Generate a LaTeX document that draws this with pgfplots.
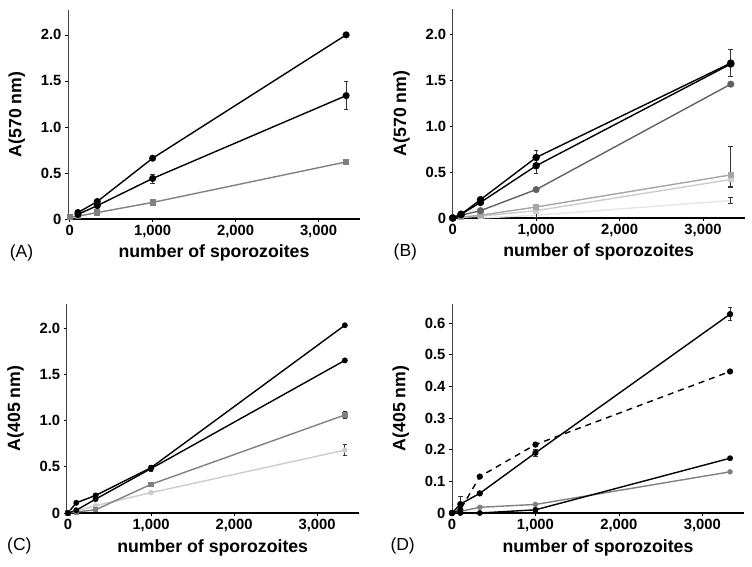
\documentclass[border=0pt]{standalone}
\usepackage{pgfplots}
\pgfplotsset{compat=1.18}
\usepackage{fontspec}
\setmainfont{Liberation Sans}
\definecolor{gA}{gray}{0.5}
\definecolor{gB}{gray}{0.38}
\definecolor{gC}{gray}{0.65}
\definecolor{gD}{gray}{0.8}
\definecolor{gE}{gray}{0.9}
\pgfplotsset{
  panel/.style={
    scale only axis, width=292pt, height=209pt, anchor=south west,
    axis lines=left,
    x axis line style={-, line width=1.5pt},
    y axis line style={-, line width=0.7pt, black!75},
    tick align=outside, major tick length=3pt,
    tick style={black, line width=0.7pt},
    xmin=0, xmax=3500, ymin=0,
    xtick={0,1000,2000,3000}, xticklabels={0,{1,000},{2,000},{3,000}},
    tick label style={font=\bfseries\fontsize{14.8}{14.8}\selectfont},
    xtick pos=bottom, ytick pos=left,
    xlabel={number of sporozoites},
    xlabel style={at={(axis description cs:0.5,-0.163)}, anchor=center, font=\bfseries\fontsize{17.7}{17.7}\selectfont},
    ylabel style={at={(axis description cs:-0.175,0.5)}, anchor=center, font=\bfseries\fontsize{17.7}{17.7}\selectfont},
    clip=false,
    every axis plot/.append style={line width=1.4pt},
    error bars/y dir=both, error bars/y explicit,
    error bars/error bar style={line width=0.7pt, black!80},
    error bars/error mark options={rotate=90, mark size=2.3pt, line width=0.7pt, black!80},
  },
}
\begin{document}
\begin{tikzpicture}[x=1pt,y=1pt]
\path[use as bounding box] (0,0) rectangle (752,567);
% ---------------- (A)
\begin{axis}[panel, at={(68pt,348pt)}, xmin=-20, ymax=2.27,
  ytick={0,0.5,1,1.5,2}, yticklabels={0,0.5,1.0,1.5,2.0}, ylabel={A(570 nm)}]
\addplot[gA, mark=square*, mark size=2.4pt] coordinates {
 (0,0.02) +- (0,0) (100,0.03) +- (0,0) (333,0.07) +- (0,0.01) (1000,0.18) +- (0,0.02) (3333,0.62) +- (0,0.02)};
\addplot[black, mark=*, mark size=2.8pt] coordinates {
 (100,0.05) +- (0,0) (333,0.145) +- (0,0.01) (1000,0.44) +- (0,0.05) (3333,1.34) +- (0,0.15)};
\addplot[black, mark=*, mark size=2.8pt] coordinates {
 (100,0.07) +- (0,0) (333,0.19) +- (0,0.01) (1000,0.66) +- (0,0.02) (3333,2.0) +- (0,0.01)};
\node[font=\fontsize{17.5}{17.5}\selectfont] at (axis description cs:-0.159,-0.163) {(A)};
\end{axis}
% ---------------- (B)
\begin{axis}[panel, at={(452.7pt,349pt)}, ymax=2.28,
  ytick={0,0.5,1,1.5,2}, yticklabels={0,0.5,1.0,1.5,2.0}, ylabel={A(570 nm)}]
\addplot[gE, mark=none] coordinates {
 (333,0.0) +- (0,0) (1000,0.03) +- (0,0.02) (3333,0.19) +- (0,0.03)};
\addplot[gD, mark=square*, mark size=2.2pt] coordinates {
 (100,0.005) +- (0,0) (333,0.02) +- (0,0) (1000,0.08) +- (0,0.01) (3333,0.42) +- (0,0.08)};
\addplot[gC, mark=square*, mark size=2.4pt] coordinates {
 (100,0.01) +- (0,0) (333,0.03) +- (0,0) (1000,0.12) +- (0,0.03) (3333,0.47) += (0,0.31) -= (0,0.14)};
\addplot[gB, mark=*, mark size=2.8pt] coordinates {
 (0,0) +- (0,0) (100,0.03) +- (0,0) (333,0.08) +- (0,0) (1000,0.31) +- (0,0.02) (3333,1.46) +- (0,0.02)};
\addplot[black, mark=*, mark size=3pt] coordinates {
 (0,0) +- (0,0) (100,0.04) +- (0,0) (333,0.17) +- (0,0.01) (1000,0.57) +- (0,0.08) (3333,1.68) +- (0,0)};
\addplot[black, mark=*, mark size=3pt] coordinates {
 (0,0) +- (0,0) (100,0.04) +- (0,0) (333,0.20) +- (0,0.01) (1000,0.66) +- (0,0.08) (3333,1.69) +- (0,0.15)};
\node[font=\fontsize{17.5}{17.5}\selectfont] at (axis description cs:-0.162,-0.163) {(B)};
\end{axis}
% ---------------- (C)
\begin{axis}[panel, at={(66.7pt,54pt)}, xmin=-15, ymax=2.26,
  ytick={0,0.5,1,1.5,2}, yticklabels={0,0.5,1.0,1.5,2.0}, ylabel={A(405 nm)},
  xlabel style={at={(axis description cs:0.5,-0.168)}}]
\addplot[gD, mark=*, mark size=2pt] coordinates {
 (0,0) +- (0,0) (100,0.02) +- (0,0) (333,0.08) +- (0,0) (1000,0.22) +- (0,0) (3333,0.68) +- (0,0.06)};
\addplot[gA, mark=square*, mark size=2pt] coordinates {
 (0,0) +- (0,0) (100,0.01) +- (0,0) (333,0.035) +- (0,0.01) (1000,0.31) +- (0,0.02) (3333,1.06) +- (0,0.04)};
\addplot[black, mark=*, mark size=2.2pt] coordinates {
 (0,0) +- (0,0) (100,0.03) +- (0,0) (333,0.15) +- (0,0) (1000,0.48) +- (0,0.03) (3333,1.65) +- (0,0)};
\addplot[black, mark=*, mark size=2.2pt] coordinates {
 (0,0) +- (0,0) (100,0.11) +- (0,0) (333,0.19) +- (0,0) (1000,0.49) +- (0,0) (3333,2.03) +- (0,0)};
\node[font=\fontsize{17.5}{17.5}\selectfont] at (axis description cs:-0.162,-0.159) {(C)};
\end{axis}
% ---------------- (D)
\begin{axis}[panel, at={(452pt,54pt)}, ymax=0.66,
  ytick={0,0.1,0.2,0.3,0.4,0.5,0.6}, yticklabels={0,0.1,0.2,0.3,0.4,0.5,0.6}, ylabel={A(405 nm)},
  xlabel style={at={(axis description cs:0.5,-0.168)}}]
\addplot[gA, mark=*, mark size=2pt] coordinates {
 (0,0) +- (0,0) (100,0.005) +- (0,0) (333,0.018) +- (0,0) (1000,0.027) +- (0,0) (3333,0.13) +- (0,0)};
\addplot[black, mark=*, mark size=2.2pt] coordinates {
 (0,0) +- (0,0) (100,0.0) +- (0,0) (333,0.0) +- (0,0) (1000,0.01) +- (0,0) (3333,0.173) +- (0,0)};
\addplot[black, mark=*, mark size=2.4pt, dash pattern=on 6pt off 5pt, mark options={solid}] coordinates {
 (0,0) +- (0,0) (100,0.01) +- (0,0) (333,0.115) +- (0,0) (1000,0.216) +- (0,0) (3333,0.447) +- (0,0)};
\addplot[black, mark=*, mark size=2.4pt] coordinates {
 (0,0) +- (0,0) (100,0.028) +- (0,0.024) (333,0.062) +- (0,0.004) (1000,0.19) +- (0,0.012) (3333,0.628) +- (0,0.02)};
\node[font=\fontsize{17.5}{17.5}\selectfont] at (axis description cs:-0.169,-0.159) {(D)};
\end{axis}
\end{tikzpicture}
\end{document}
